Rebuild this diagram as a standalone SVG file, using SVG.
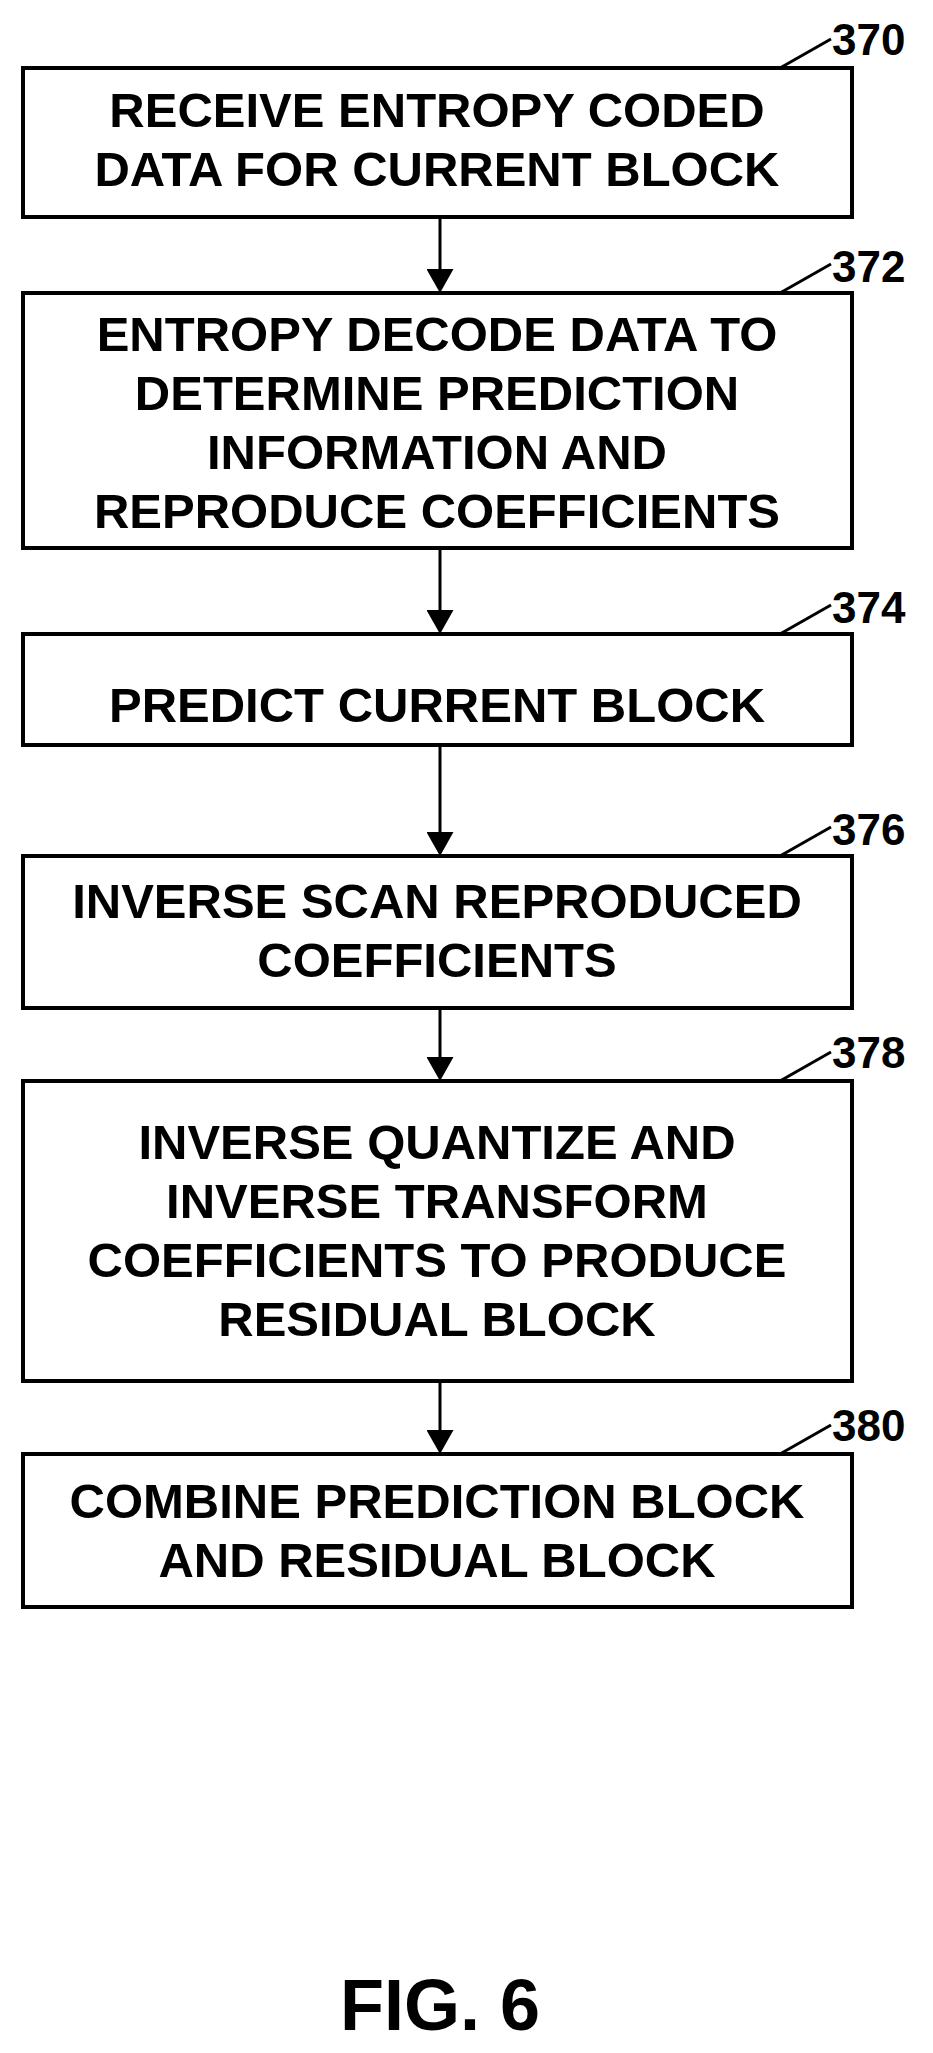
<svg xmlns="http://www.w3.org/2000/svg" width="933" height="2053" viewBox="0 0 933 2053">
<defs>
<style>
.b{fill:#fff;stroke:#000;stroke-width:4}
.t{font-family:"Liberation Sans",Arial,sans-serif;font-weight:bold;font-size:49px;text-anchor:middle;fill:#000}
.n{font-family:"Liberation Sans",Arial,sans-serif;font-weight:bold;font-size:44px;fill:#000}
.l{stroke:#000;stroke-width:3;fill:none}
</style>
<marker id="a" markerWidth="8" markerHeight="9" refX="7" refY="4.5" orient="auto" markerUnits="strokeWidth"><path d="M0,0L8,4.5L0,9Z" fill="#000"/></marker>
</defs>
<rect width="933" height="2053" fill="#fff"/>
<g id="connectors">
<line class="l" x1="440" y1="219" x2="440" y2="290" marker-end="url(#a)"/>
<line class="l" x1="440" y1="550" x2="440" y2="631" marker-end="url(#a)"/>
<line class="l" x1="440" y1="747" x2="440" y2="853" marker-end="url(#a)"/>
<line class="l" x1="440" y1="1010" x2="440" y2="1078" marker-end="url(#a)"/>
<line class="l" x1="440" y1="1383" x2="440" y2="1451" marker-end="url(#a)"/>
</g>
<g id="n370"><rect class="b" x="23" y="68" width="829" height="149"/><text class="t" x="437" y="127">RECEIVE ENTROPY CODED</text><text class="t" x="437" y="186">DATA FOR CURRENT BLOCK</text><path class="l" d="M780,68L831,39"/><text class="n" x="832" y="55">370</text></g>
<g id="n372"><rect class="b" x="23" y="293" width="829" height="255"/><text class="t" x="437" y="351">ENTROPY DECODE DATA TO</text><text class="t" x="437" y="410">DETERMINE PREDICTION</text><text class="t" x="437" y="469">INFORMATION AND</text><text class="t" x="437" y="528">REPRODUCE COEFFICIENTS</text><path class="l" d="M780,293L831,264"/><text class="n" x="832" y="282">372</text></g>
<g id="n374"><rect class="b" x="23" y="634" width="829" height="111"/><text class="t" x="437" y="722">PREDICT CURRENT BLOCK</text><path class="l" d="M780,634L831,605"/><text class="n" x="832" y="623">374</text></g>
<g id="n376"><rect class="b" x="23" y="856" width="829" height="152"/><text class="t" x="437" y="918">INVERSE SCAN REPRODUCED</text><text class="t" x="437" y="977">COEFFICIENTS</text><path class="l" d="M780,856L831,827"/><text class="n" x="832" y="845">376</text></g>
<g id="n378"><rect class="b" x="23" y="1081" width="829" height="300"/><text class="t" x="437" y="1159">INVERSE QUANTIZE AND</text><text class="t" x="437" y="1218">INVERSE TRANSFORM</text><text class="t" x="437" y="1277">COEFFICIENTS TO PRODUCE</text><text class="t" x="437" y="1336">RESIDUAL BLOCK</text><path class="l" d="M780,1081L831,1052"/><text class="n" x="832" y="1068">378</text></g>
<g id="n380"><rect class="b" x="23" y="1454" width="829" height="153"/><text class="t" x="437" y="1518">COMBINE PREDICTION BLOCK</text><text class="t" x="437" y="1577">AND RESIDUAL BLOCK</text><path class="l" d="M780,1454L831,1425"/><text class="n" x="832" y="1441">380</text></g>
<text class="t" x="440" y="2030" style="font-size:72px">FIG. 6</text>
</svg>
